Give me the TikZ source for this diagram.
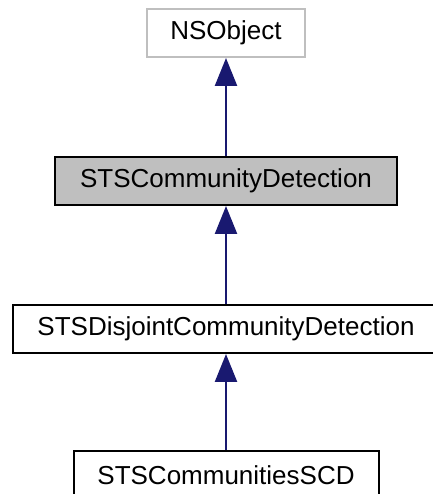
\documentclass[tikz,border=0pt]{standalone}
\usepackage{fontspec}
\setmainfont{Liberation Sans}
\usetikzlibrary{arrows.meta, positioning}
\definecolor{cEdge}{RGB}{25,25,112}
\definecolor{cGrey}{RGB}{191,191,191}
\tikzset{
	cls/.style   ={rectangle, draw=black, line width=2pt, minimum height=48pt, inner sep=0pt, align=center, fill=white, font=\fontsize{26}{30}\selectfont},
	extcls/.style={cls, draw=cGrey},
	curcls/.style={cls, fill=cGrey},
	inherit/.style={-{Triangle[length=28pt, width=22pt]}, line width=2.4pt, cEdge},
}

\begin{document}
\begin{tikzpicture}[x=1pt, y=1pt, node distance=98pt]
	\useasboundingbox (0,0) rectangle (432,494);
	% class hierarchy, base class on top
	\node[extcls, minimum width=158pt] (nsobject) at (226,461) {NSObject};
	\node[curcls, minimum width=342pt, below=of nsobject] (community) {STSCommunityDetection};
	\node[cls, minimum width=426pt, below=of community] (disjoint) {STSDisjointCommunityDetection};
	\node[cls, minimum width=305pt, below=96pt of disjoint] (scd) {STSCommunitiesSCD};
	\draw[inherit] (community) -- (nsobject);
	\draw[inherit] (disjoint) -- (community);
	\draw[inherit] (scd) -- (disjoint);
\end{tikzpicture}
\end{document}
